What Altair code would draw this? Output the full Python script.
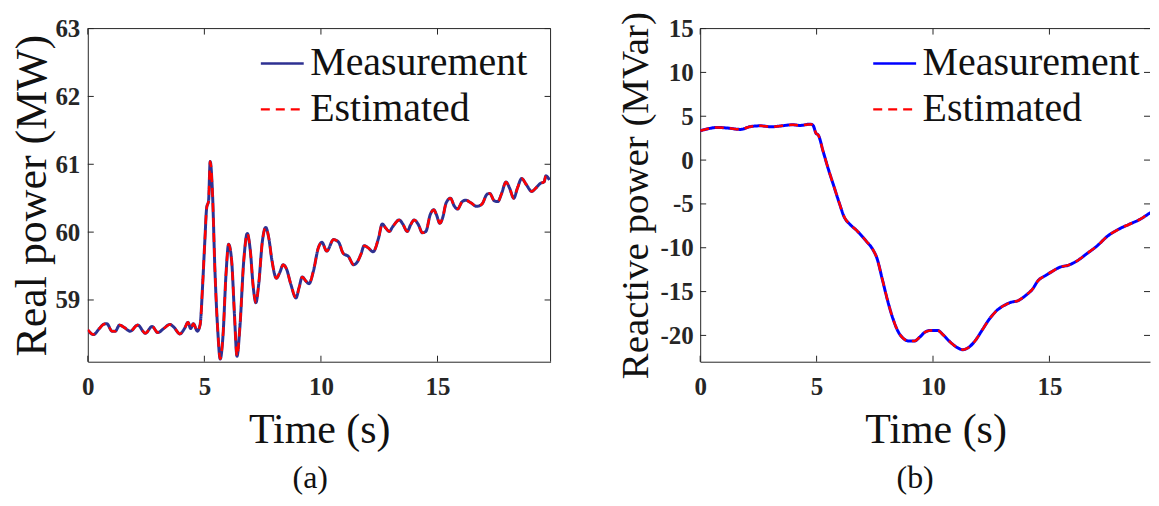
import altair as alt
import pandas as pd

# ---------------- data ----------------
# (a) Real power
time_a = [0, 0.24, 0.5, 0.67, 0.82, 1.04, 1.18, 1.36, 1.54, 1.82,
          2.14, 2.47, 2.76, 3.0, 3.26, 3.52, 3.69, 3.95, 4.15, 4.3,
          4.41, 4.53, 4.7, 4.82, 4.92, 5.02, 5.1, 5.18, 5.25, 5.35,
          5.45, 5.57, 5.68, 5.8, 5.93, 6.04, 6.17, 6.29, 6.4, 6.52,
          6.69, 6.84, 6.97, 7.1, 7.21, 7.33, 7.49, 7.63, 7.76, 7.9,
          8.09, 8.24, 8.38, 8.52, 8.71, 8.93, 9.06, 9.2, 9.35, 9.49,
          9.68, 9.89, 10.04, 10.25, 10.54, 10.76, 10.95, 11.18, 11.4, 11.56,
          11.71, 11.86, 12.02, 12.24, 12.47, 12.63, 12.78, 12.93, 13.08, 13.36,
          13.51, 13.7, 13.85, 14.0, 14.18, 14.35, 14.5, 14.69, 14.84, 14.95,
          15.1, 15.22, 15.37, 15.56, 15.71, 15.86, 16.06, 16.21, 16.44, 16.67,
          16.9, 17.13, 17.24, 17.44, 17.59, 17.74, 17.94, 18.09, 18.27, 18.43,
          18.61, 18.81, 19.04, 19.22, 19.42, 19.57, 19.65, 19.8]
real_meas = [58.56, 58.49, 58.58, 58.64, 58.65, 58.54, 58.54, 58.63, 58.60, 58.54,
             58.63, 58.51, 58.61, 58.52, 58.58, 58.64, 58.60, 58.50, 58.58, 58.67,
             58.58, 58.65, 58.54, 58.64, 59.18, 59.87, 60.36, 60.46, 61.04, 60.56,
             59.47, 58.58, 58.13, 58.48, 59.39, 59.82, 59.58, 58.79, 58.17, 58.58,
             59.58, 59.98, 59.73, 59.18, 58.96, 59.23, 59.87, 60.07, 59.92, 59.58,
             59.32, 59.41, 59.52, 59.46, 59.23, 59.03, 59.18, 59.34, 59.28, 59.24,
             59.43, 59.77, 59.85, 59.72, 59.89, 59.85, 59.69, 59.64, 59.52, 59.56,
             59.67, 59.80, 59.77, 59.71, 59.91, 60.12, 60.06, 60.01, 60.08, 60.18,
             60.12, 60.01, 60.11, 60.18, 60.11, 59.99, 60.01, 60.26, 60.33, 60.26,
             60.13, 60.21, 60.43, 60.50, 60.39, 60.34, 60.45, 60.47, 60.43, 60.38,
             60.41, 60.56, 60.57, 60.46, 60.45, 60.56, 60.74, 60.65, 60.50, 60.65,
             60.79, 60.70, 60.60, 60.65, 60.72, 60.74, 60.83, 60.77]
real_est = list(real_meas)

# (b) Reactive power
time_b = [0, 0.28, 0.74, 1.2, 1.74, 2.12, 2.58, 3.05, 3.51, 3.97,
          4.28, 4.74, 4.85, 4.97, 5.08, 5.28, 5.51, 5.74, 5.97, 6.2,
          6.43, 6.74, 7.12, 7.43, 7.58, 7.82, 8.05, 8.28, 8.51, 8.74,
          8.97, 9.2, 9.43, 9.66, 9.89, 10.2, 10.43, 10.74, 11.05, 11.28,
          11.51, 11.82, 12.12, 12.43, 12.74, 13.05, 13.35, 13.66, 13.97, 14.28,
          14.51, 14.82, 15.12, 15.43, 15.82, 16.2, 16.58, 17.05, 17.51, 17.97,
          18.43, 18.89, 19.35, 19.66]
reactive_meas = [3.35, 3.54, 3.72, 3.65, 3.5, 3.8, 3.91, 3.8, 3.91, 4.03,
                 3.95, 4.1, 3.95, 3.08, 2.82, 1.0, -1.08, -2.97, -4.86, -6.57,
                 -7.32, -8.08, -9.21, -10.27, -11.1, -13.57, -16.03, -18.1, -19.6, -20.38,
                 -20.64, -20.64, -20.19, -19.62, -19.43, -19.43, -19.92, -20.76, -21.4, -21.63,
                 -21.4, -20.57, -19.35, -18.1, -17.16, -16.59, -16.22, -16.03, -15.46, -14.7,
                 -13.76, -13.19, -12.7, -12.24, -11.98, -11.48, -10.73, -9.78, -8.65, -7.89,
                 -7.32, -6.76, -6.0, -5.62]
reactive_est = list(reactive_meas)

series_names = ["Measurement", "Estimated"]
x_ticks = [0, 5, 10, 15]
real_ticks = [59, 60, 61, 62, 63]
reactive_ticks = [-20, -15, -10, -5, 0, 5, 10, 15]

FONT = "Liberation Serif"
FRAME = "#262626"


def panel(t, meas, est, blue, xdom, ydom, yticks, ytitle, ytitle_size, W, H,
          caption, caption_dx, right_border, ylabel_pad, ytitle_pad, xtitle_x):
    n = len(t)
    assert len(meas) == n and len(est) == n
    df = pd.DataFrame({"t": list(t) + list(t), "v": list(meas) + list(est),
                       "series": [series_names[0]] * n + [series_names[1]] * n})
    xaxis_kw = dict(values=x_ticks, title="Time (s)", labelFlush=False,
                    labelPadding=13, titlePadding=10, titleFontSize=42)
    if xtitle_x is not None:
        xaxis_kw["titleX"] = xtitle_x
    xenc = alt.X("t:Q", scale=alt.Scale(domain=xdom, nice=False, zero=False),
                 axis=alt.Axis(**xaxis_kw))
    yenc = alt.Y("v:Q", scale=alt.Scale(domain=ydom, nice=False, zero=False),
                 axis=alt.Axis(values=yticks, title=ytitle, labelPadding=ylabel_pad,
                               labelExpr="datum.value + ''",
                               titlePadding=ytitle_pad, titleFontSize=ytitle_size))
    color = alt.Color("series:N",
                      scale=alt.Scale(domain=series_names, range=[blue, "#FF0000"]),
                      legend=alt.Legend(title=None, orient="none", legendX=172, legendY=12))
    dash = alt.StrokeDash("series:N",
                          scale=alt.Scale(domain=series_names, range=[[1, 0], [9, 6]]),
                          legend=alt.Legend(title=None, orient="none", legendX=172, legendY=12))
    base = alt.Chart(df)
    m_line = base.transform_filter(alt.datum.series == series_names[0]).mark_line(
        strokeWidth=3, interpolate="monotone", clip=True).encode(
        x=xenc, y=yenc, color=color, strokeDash=dash)
    e_line = base.transform_filter(alt.datum.series == series_names[1]).mark_line(
        strokeWidth=2.5, interpolate="monotone", clip=True).encode(
        x=xenc, y=yenc, color=color, strokeDash=dash)

    xt = pd.DataFrame({"t": x_ticks})
    yt = pd.DataFrame({"v": yticks})
    tick_style = dict(color=FRAME, strokeWidth=1)
    bt = alt.Chart(xt).mark_rule(**tick_style).encode(x=xenc, y=alt.value(H), y2=alt.value(H - 6))
    tt = alt.Chart(xt).mark_rule(**tick_style).encode(x=xenc, y=alt.value(0), y2=alt.value(6))
    lt = alt.Chart(yt).mark_rule(**tick_style).encode(y=yenc, x=alt.value(0), x2=alt.value(6))
    rt = alt.Chart(yt).mark_rule(**tick_style).encode(y=yenc, x=alt.value(W - 6), x2=alt.value(W))
    one = pd.DataFrame({"k": [0]})
    top = alt.Chart(one).mark_rule(color=FRAME, strokeWidth=1).encode(
        x=alt.value(0), x2=alt.value(W), y=alt.value(0))
    layers = [m_line, e_line, bt, tt, lt, rt, top]
    if right_border:
        layers.append(alt.Chart(one).mark_rule(color=FRAME, strokeWidth=1).encode(
            x=alt.value(W), y=alt.value(0), y2=alt.value(H)))
    return alt.layer(*layers).properties(
        width=W, height=H,
        title=alt.TitleParams(caption, orient="bottom", anchor="middle", frame="group",
                              fontSize=32, font=FONT, fontWeight="normal", color="#111111",
                              dx=caption_dx, offset=13))


left = panel(time_a, real_meas, real_est, "#2E3192", [0, 19.85], [58.09, 63], real_ticks,
             "Real power (MW)", 44, 464, 334, "(a)", -9, True, 8, 0, None)
right = panel(time_b, reactive_meas, reactive_est, "#0000FF", [0, 19.32], [-23, 15],
              reactive_ticks, "Reactive power (MVar)", 39, 451, 334, "(b)", -10, False,
              7, 4, 236)

chart = alt.hconcat(left, right, spacing=65).resolve_scale(
    color="independent", strokeDash="independent").resolve_legend(
    color="independent", strokeDash="independent").properties(
    padding={"left": 2, "top": 2, "right": 0, "bottom": 0}).configure_view(
    strokeWidth=0).configure_axis(
    grid=False, ticks=False, domain=True, domainColor=FRAME, domainWidth=1,
    labelFont=FONT, labelFontSize=25, labelFontWeight="bold", labelColor=FRAME,
    titleFont=FONT, titleFontWeight="normal", titleColor="#111111").configure_legend(
    labelFont=FONT, labelFontSize=40, labelColor="#111111", symbolType="stroke",
    symbolSize=1849, symbolStrokeWidth=2.5, labelOffset=5, rowPadding=3, padding=0,
    labelLimit=400)

chart.save("out.html", embed_options={"renderer": "svg", "actions": False})
